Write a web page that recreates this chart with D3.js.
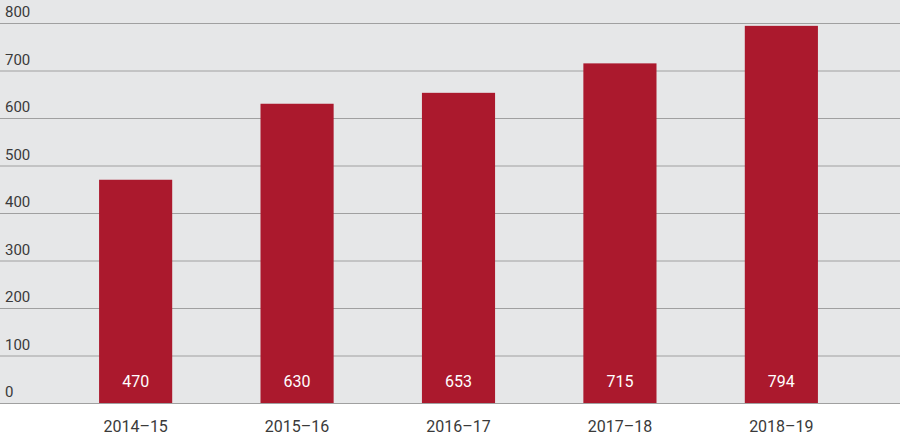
<!DOCTYPE html>
<html><head><meta charset="utf-8">
<script src="https://cdn.jsdelivr.net/npm/d3@7"></script>
<style>body{margin:0;background:#fff}text{font-family:Roboto,sans-serif}</style>
</head><body><svg width="900" height="438"></svg>
<script>
var years = ['2014–15', '2015–16', '2016–17', '2017–18', '2018–19']
var values = [470, 630, 653, 715, 794]
var ticks = [0, 100, 200, 300, 400, 500, 600, 700, 800]

var svg = d3.select('svg')
var y = d3.scaleLinear().domain([0, 800]).range([403, 23])
var x = d3.scaleBand().domain(years).range([55, 862]).paddingInner(0.547).paddingOuter(0.273)

svg.append('rect').attr('x', 0).attr('y', 0).attr('width', 900).attr('height', 403).attr('fill', '#e6e7e8')

svg.selectAll('.grid').data(ticks).enter().append('line')
  .attr('x1', 0).attr('x2', 900)
  .attr('y1', function (d) { return y(d) + 0.5 }).attr('y2', function (d) { return y(d) + 0.5 })
  .attr('stroke', '#a0a0a0').attr('stroke-width', 1)

svg.selectAll('.tl').data(ticks).enter().append('text')
  .attr('x', 5).attr('y', function (d) { return y(d) - 6 })
  .attr('font-size', 15).attr('fill', '#3a3a3a').text(String)

svg.selectAll('.bar').data(values).enter().append('rect')
  .attr('x', function (d, i) { return x(years[i]) })
  .attr('width', x.bandwidth())
  .attr('y', function (d) { return y(d) })
  .attr('height', function (d) { return y(0) - y(d) })
  .attr('fill', '#ab192d')

svg.selectAll('.vl').data(values).enter().append('text')
  .attr('x', function (d, i) { return x(years[i]) + x.bandwidth() / 2 })
  .attr('y', 387).attr('text-anchor', 'middle')
  .attr('font-size', 16).attr('fill', '#fff').text(String)

svg.selectAll('.xl').data(years).enter().append('text')
  .attr('x', function (d) { return x(d) + x.bandwidth() / 2 })
  .attr('y', 432).attr('text-anchor', 'middle')
  .attr('font-size', 16).attr('fill', '#3a3a3a').text(String)
</script></body></html>
